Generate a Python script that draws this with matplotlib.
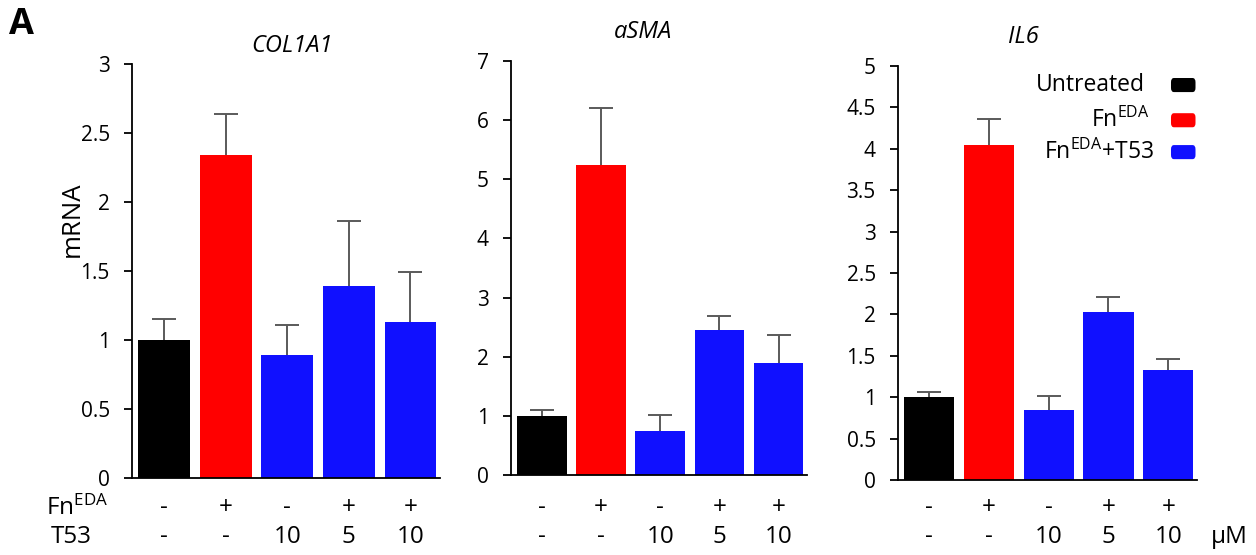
import matplotlib
matplotlib.use("Agg")
import matplotlib.pyplot as plt
import matplotlib.transforms as mtransforms
from matplotlib.patches import FancyBboxPatch

plt.rcParams['font.family'] = ['Open Sans', 'DejaVu Sans']
plt.rcParams['mathtext.fontset'] = 'custom'
plt.rcParams['mathtext.rm'] = 'Open Sans'
plt.rcParams['mathtext.it'] = 'Open Sans:italic'

# Dades
genes = ['COL1A1', 'aSMA', 'IL6']
col1a1_mean = [1.00, 2.34, 0.89, 1.39, 1.13]
col1a1_err = [0.15, 0.30, 0.22, 0.47, 0.36]
asma_mean = [1.00, 5.24, 0.75, 2.46, 1.90]
asma_err = [0.10, 0.97, 0.27, 0.22, 0.46]
il6_mean = [1.00, 4.04, 0.84, 2.03, 1.33]
il6_err = [0.06, 0.32, 0.17, 0.18, 0.13]
fn_row = ['-', '+', '-', '+', '+']
t53_row = ['-', '-', '10', '5', '10']
ymax = [3, 7, 5]
ystep = [0.5, 1, 0.5]
legend_labels = ['Untreated', 'Fn$^{\\mathrm{EDA}}$', 'Fn$^{\\mathrm{EDA}}$+T53']

colors = ['#000000', '#FF0000', '#1010FF', '#1010FF', '#1010FF']
err_color = '#5a5a5a'

W, H = 1256, 555
fig = plt.figure(figsize=(W / 100, H / 100), dpi=100)

# Caixes dels panells en píxels: (esquerra, dreta, dalt, baix)
boxes_px = [(132, 440, 64, 478), (511, 807, 61, 475), (898, 1197, 66, 480)]
title_px = [(292, 46), (643, 32), (1023, 37)]
means = [col1a1_mean, asma_mean, il6_mean]
errs = [col1a1_err, asma_err, il6_err]

axes = []
for i, gene in enumerate(genes):
    l, r, t, b = boxes_px[i]
    ax = fig.add_axes([l / W, 1 - b / H, (r - l) / W, (b - t) / H])
    x = list(range(len(means[i])))
    ax.errorbar(x, means[i], yerr=errs[i], fmt='none',
                ecolor=err_color, elinewidth=1.4, capsize=8.5, capthick=1.4, zorder=1)
    ax.bar(x, means[i], width=0.84, color=colors, zorder=2)
    ax.set_xlim(-0.52, 4.48)
    ax.set_ylim(0, ymax[i])
    n = int(round(ymax[i] / ystep[i]))
    ticks = [k * ystep[i] for k in range(n + 1)]
    ax.set_yticks(ticks)
    ax.set_yticklabels([f"{tk:g}" for tk in ticks])
    ax.set_xticks([])
    for s in ['top', 'right']:
        ax.spines[s].set_visible(False)
    for s in ['left', 'bottom']:
        ax.spines[s].set_linewidth(1.3)
    ax.tick_params(axis='y', direction='out', length=6, width=1.3, labelsize=15, pad=10)
    fig.text(title_px[i][0] / W, 1 - title_px[i][1] / H, gene, ha='center', va='center',
             fontsize=17, style='italic')

    # Files de tractament sota l'eix
    trans = mtransforms.blended_transform_factory(ax.transData, fig.transFigure)
    for j in x:
        ax.text(j, 1 - 508 / H, fn_row[j], transform=trans, ha='center', va='center', fontsize=17.5)
        ax.text(j, 1 - 537 / H, t53_row[j], transform=trans, ha='center', va='center', fontsize=17.5)
    axes.append(ax)

fig.text(72 / W, 1 - 219 / H, 'mRNA', rotation=90, ha='center', va='center', fontsize=18.5)
fig.text(46 / W, 1 - 508 / H, 'Fn$^{\\mathrm{EDA}}$', ha='left', va='center', fontsize=17.5)
fig.text(51 / W, 1 - 537 / H, 'T53', ha='left', va='center', fontsize=17.5)
fig.text(1211 / W, 1 - 537 / H, 'μM', ha='left', va='center', fontsize=17.5)
fig.text(9 / W, 1 - 25 / H, 'A', ha='left', va='center', fontsize=26, fontweight='bold')

# Llegenda manual al tercer panell
ax = axes[2]
leg_y = [0.954, 0.869, 0.792]
leg_right = [0.826, 0.843, 0.856]
leg_colors = ['#000000', '#FF0000', '#1010FF']
for lab, yy, xr, c in zip(legend_labels, leg_y, leg_right, leg_colors):
    ax.text(xr, yy, lab, transform=ax.transAxes, ha='right', va='center', fontsize=16.5)
    box = FancyBboxPatch((0.913, yy - 0.017), 0.082, 0.034, boxstyle='round,pad=0,rounding_size=0.01',
                         transform=ax.transAxes, facecolor=c, edgecolor='none', clip_on=False)
    ax.add_patch(box)

fig.savefig('out.png', dpi=100)
